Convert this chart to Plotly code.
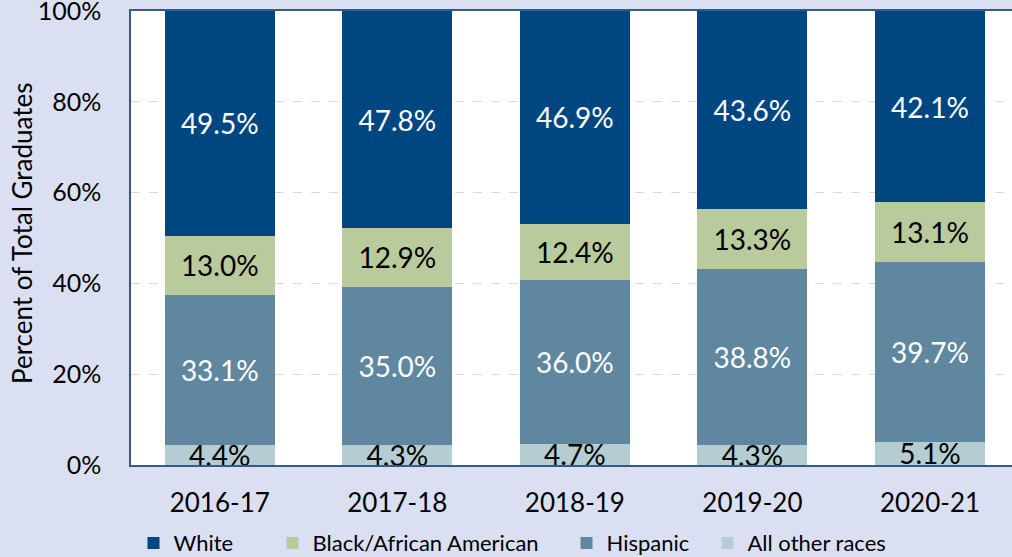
import plotly.graph_objects as go

years = ["2016-17", "2017-18", "2018-19", "2019-20", "2020-21"]
other = [4.4, 4.3, 4.7, 4.3, 5.1]
hispanic = [33.1, 35.0, 36.0, 38.8, 39.7]
black = [13.0, 12.9, 12.4, 13.3, 13.1]
white = [49.5, 47.8, 46.9, 43.6, 42.1]

series = [
    ("All other races", other, "#b5cdd2", "black", "legend4"),
    ("Hispanic", hispanic, "#5f87a0", "white", "legend3"),
    ("Black/African American", black, "#b9cb9c", "black", "legend2"),
    ("White", white, "#004782", "white", "legend"),
]
legend_x_px = {"legend": 133.5, "legend2": 272.5, "legend3": 566.5, "legend4": 707.5}

FONT = "Lato"
W, H = 1012, 557
fig = go.Figure()
for name, vals, color, tcolor, leg in series:
    fig.add_trace(go.Bar(
        x=years, y=vals, name=name, legend=leg,
        marker=dict(color=color, line=dict(width=0)),
        text=[f"{v:.1f}%" for v in vals],
        textposition="inside", insidetextanchor="middle",
        textangle=0, constraintext="none",
        textfont=dict(family=FONT, size=28, color=tcolor),
    ))

legends = {}
for leg, px in legend_x_px.items():
    legends[leg] = dict(orientation="h", xref="container", yref="paper",
                        x=px / W, y=-0.172, xanchor="left", yanchor="middle",
                        font=dict(family=FONT, size=22, color="black"),
                        itemwidth=30, bgcolor="rgba(0,0,0,0)")

fig.update_layout(
    barmode="stack", bargap=0.38,
    width=W, height=H,
    margin=dict(l=131, r=0, t=11, b=92, autoexpand=False),
    paper_bgcolor="#dae0f1", plot_bgcolor="white",
    font=dict(family=FONT, color="black"),
    showlegend=True,
    annotations=[dict(text="Percent of Total Graduates", textangle=-90,
                      xref="paper", yref="paper", x=(22 - 131) / 881, y=(465 - 233) / 454,
                      xanchor="center", yanchor="middle", showarrow=False,
                      font=dict(family=FONT, size=26, color="black"))],
    **legends,
)
fig.update_xaxes(range=[-0.5, 4.462], showline=True, linecolor="#2e5b92", linewidth=1.5,
                 mirror=True, ticks="", tickfont=dict(family=FONT, size=26),
                 ticklabelstandoff=14, showgrid=False, automargin=False)
fig.update_yaxes(range=[0, 100], dtick=20, ticksuffix="%", showline=True,
                 linecolor="#2e5b92", linewidth=1.5, mirror=True,
                 showgrid=True, gridcolor="#d9d9d9", griddash="dash", gridwidth=1,
                 ticks="", tickfont=dict(family=FONT, size=25), ticklabelstandoff=23,
                 ticklabeloverflow="allow", zeroline=False, automargin=False)

fig.write_html(
    "out.html",
    config={"displayModeBar": False},
    post_script="document.body.style.margin='0';document.body.style.overflow='hidden';"
                "document.body.style.background='#dae0f1';",
)
